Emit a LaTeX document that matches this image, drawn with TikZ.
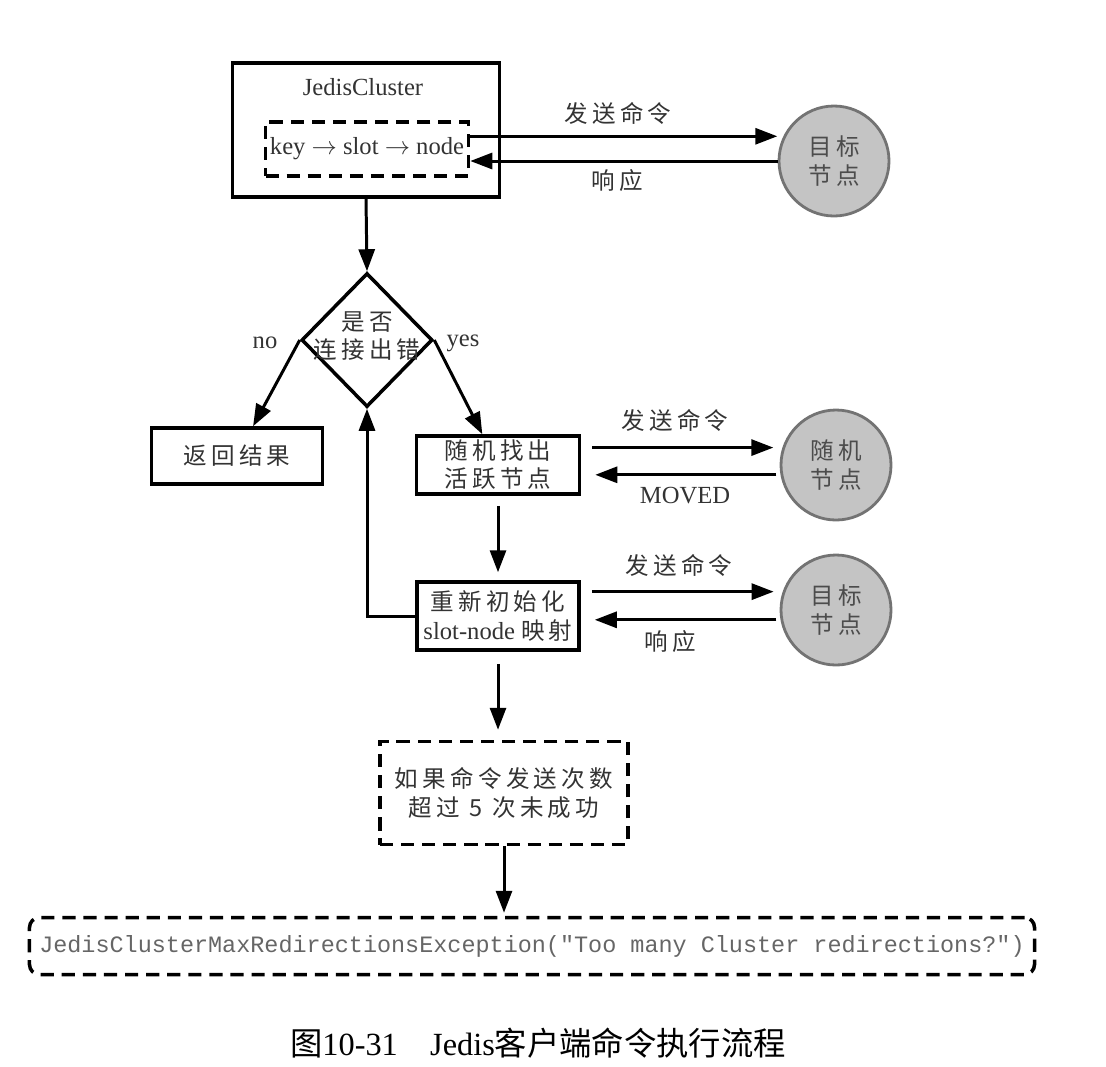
\documentclass[tikz,border=0pt]{standalone}
\usepackage{fontspec}
\setmainfont{Liberation Serif}
\setmonofont{Liberation Mono}
\newfontfamily\cjk[LetterSpace=18]{Noto Sans CJK SC}
\newfontfamily\cjkcap{Noto Sans CJK SC}
\usetikzlibrary{arrows.meta,shapes.geometric}

\begin{document}
\begin{tikzpicture}[x=0.2mm, y=-0.2mm, text=black!80,
    font=\fontsize{14}{16}\selectfont,
    flow/.style={-{Triangle[length=4.4mm, width=3.2mm]}, line width=1.7pt},
    box/.style={draw, line width=2pt, inner sep=0pt},
    dashbox/.style={draw, line width=2pt, dash pattern=on 7.5pt off 4.5pt, inner sep=0pt},
    zh/.style={align=center, font=\cjk\fontsize{13.4}{16}\selectfont},
    peer/.style={circle, draw=black!55, fill=black!23, line width=1.6pt,
      minimum size=22mm, inner sep=0pt, zh, text=black!70}]
  %\draw[help lines] (0,0) grid[step=50] (1106,1066);
  \useasboundingbox (0,0) rectangle (1106,1066);

  % client side
  \node[box, minimum width=53.4mm, minimum height=26.8mm] (jc) at (366,130) {};
  \node (jctitle) at (363,87) {JedisCluster};
  \node[dashbox, minimum width=40.6mm, minimum height=10.8mm] (kfn) at (367,149)
    {key $\rightarrow$ slot $\rightarrow$ node};
  \node[peer] (tgt1) at (834,161) {目标\\节点};
  \draw[flow, shorten >=1.2mm] (kfn.east |- tgt1.154) -- (tgt1.154);
  \draw[flow] (tgt1.west) -- (kfn.east |- tgt1.west);
  \node[zh] (send1) at (618,113) {发送命令};
  \node[zh] (resp1) at (617,181) {响应};

  % decision
  \node[diamond, draw, line width=2pt, minimum width=26.2mm, minimum height=26.8mm,
    inner sep=0pt] (dia) at (367,340) {};
  \node[zh] (diaq) at (367,336) {是否\\连接出错};
  \draw[flow] (jc.south) -- (dia.north);
  \node (no) at (265,343) {no};
  \node (yes) at (463,343) {yes};

  \node[box, zh, minimum width=34.2mm, minimum height=11.2mm] (ret) at (237,456) {返回结果};
  \node[box, zh, minimum width=32.6mm, minimum height=11.6mm] (rnd) at (498,465) {随机找出\\活跃节点};
  \draw[flow] (dia.west) -- (ret);
  \draw[flow] (dia.east) -- (rnd);

  \node[peer] (rndp) at (836,465) {随机\\节点};
  \draw[flow, shorten <=2.2mm, shorten >=1.8mm] (rnd.east |- rndp.162) -- (rndp.162);
  \draw[flow, shorten <=0.8mm, shorten >=2.8mm] (rndp.190) -- (rnd.east |- rndp.190);
  \node[zh] (send2) at (675,420) {发送命令};
  \node (moved) at (685,496) {MOVED};

  % refresh of the slot cache
  \node[box, minimum width=32.4mm, minimum height=13.6mm, align=center] (init) at (498,616)
    {{\cjk\fontsize{13.4}{16}\selectfont 重新初始化}\\slot-node {\cjk\fontsize{13.4}{16}\selectfont 映射}};
  \draw[flow, shorten <=2mm, shorten >=1.6mm] (rnd.south) -- (init.north);
  \draw[flow] (init.west) -| (dia.south);

  \node[peer] (tgt2) at (836,610) {目标\\节点};
  \draw[flow, shorten <=2.2mm, shorten >=1.8mm] (init.east |- tgt2.161) -- (tgt2.161);
  \draw[flow, shorten <=0.8mm, shorten >=2.8mm] (tgt2.190) -- (init.east |- tgt2.190);
  \node[zh] (send3) at (679,565) {发送命令};
  \node[zh] (resp2) at (670,642) {响应};

  % give up
  \node[dashbox, zh, minimum width=49.6mm, minimum height=20.6mm, font=\cjk\fontsize{13.4}{17}\selectfont]
    (fail) at (504,793) {如果命令发送次数\\超过 5 次未成功};
  \draw[flow, shorten <=2.4mm, shorten >=2mm] (init.south) -- (init.south |- fail.north);
  \node[dashbox, rounded corners=2mm, minimum width=201mm, minimum height=11.4mm, text=black!60,
    font=\ttfamily\fontsize{13.35}{15}\selectfont] (exc) at (532,946)
    {JedisClusterMaxRedirectionsException("Too many Cluster redirections?")};
  \draw[flow, shorten >=0.6mm] (fail.south) -- (fail.south |- exc.north);

  \node[text=black, font=\fontsize{18.4}{22}\selectfont] (cap) at (538,1043)
    {{\cjkcap 图}10-31\quad Jedis{\cjkcap 客户端命令执行流程}};
\end{tikzpicture}
\end{document}
